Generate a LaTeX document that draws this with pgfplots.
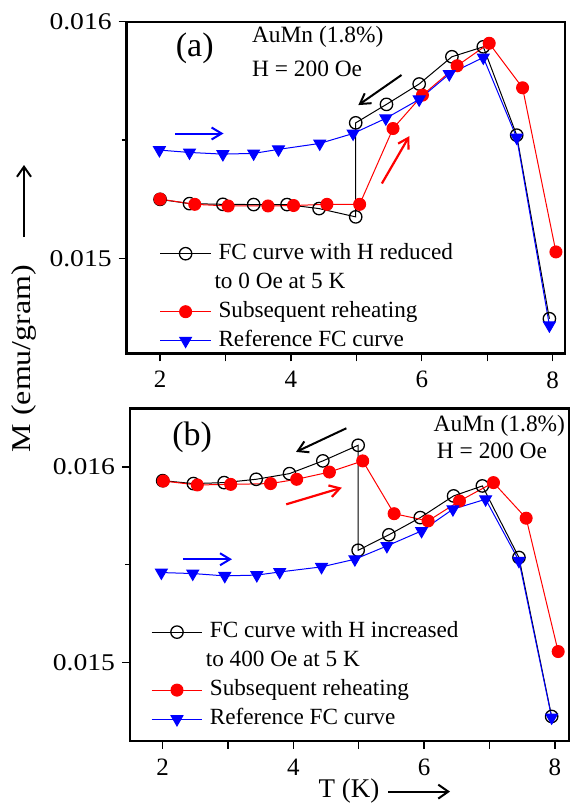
\documentclass[border=0pt]{standalone}
\usepackage{fontspec}
\setmainfont{Liberation Serif}
\usepackage{graphicx}
\usepackage{pgfplots}
\pgfplotsset{compat=1.18}
\usetikzlibrary{arrows.meta}
\newcommand{\ylab}[1]{\scalebox{1.15}[1]{#1}}
\pgfplotsset{
  panel/.style={
    scale only axis,
    axis line style={line width=1.2pt},
    tick style={line width=0.7pt, black},
    tick align=outside,
    major tick length=4pt,
    minor tick length=2.5pt,
    xtick pos=left, ytick pos=left,
    xtick={2,3,4,5,6,7,8},
    xticklabels={2,,4,,6,,8},
    ytick={0.015,0.016},
    yticklabels={\ylab{0.015},\ylab{0.016}},
    minor ytick={0.0155},
    scaled y ticks=false,
    xticklabel style={font=\fontsize{12.5}{14}\selectfont, yshift=-1.5pt},
    yticklabel style={font=\fontsize{12}{14}\selectfont},
    legend cell align=left,
    legend style={draw=none, fill=none, anchor=north west,
      font=\fontsize{11.6}{14}\selectfont, row sep=0pt, column sep=2pt,
      inner sep=0pt, nodes={inner sep=1.5pt, text height=8.5pt, text depth=3pt}},
    legend image code/.code={\draw[mark repeat=2,mark phase=2,##1] plot coordinates {(0pt,0pt) (12.7pt,0pt) (25.4pt,0pt)};},
    clip=false,
  },
  fc/.style={black, line width=0.5pt, mark=o, mark size=3.1pt, mark options={fill=white, line width=0.65pt}},
  rh/.style={red, line width=0.5pt, mark=*, mark size=3pt},
  rf/.style={blue, line width=0.5pt, mark=triangle*, mark size=3.4pt, mark options={rotate=180}},
}
\pgfplotstableread{
T M
2.00 0.015250
2.45 0.015232
2.96 0.015229
3.43 0.015228
3.94 0.015228
4.43 0.015211
4.99 0.015176
4.99 0.015573
5.46 0.015651
5.96 0.015737
6.46 0.015852
6.94 0.015894
7.45 0.015521
7.95 0.014746
}\fcA
\pgfplotstableread{
T M
2.00 0.015251
2.53 0.015229
3.04 0.015222
3.65 0.015222
4.04 0.015224
4.55 0.015229
5.05 0.015229
5.56 0.015549
6.01 0.015690
6.54 0.015814
7.03 0.015909
7.54 0.015721
8.05 0.015028
}\rhA
\pgfplotstableread{
T M
1.99 0.015458
2.45 0.015448
2.96 0.015441
3.43 0.015444
3.81 0.015461
4.44 0.015486
4.95 0.015528
5.45 0.015592
5.96 0.015672
6.42 0.015779
6.94 0.015849
7.45 0.015511
7.95 0.014718
}\rfA
\pgfplotstableread{
T M
2.00 0.015930
2.47 0.015915
2.94 0.015920
3.43 0.015937
3.94 0.015966
4.45 0.016031
4.99 0.016111
4.99 0.015574
5.46 0.015653
5.94 0.015741
6.45 0.015852
6.89 0.015903
7.45 0.015537
7.95 0.014724
}\fcB
\pgfplotstableread{
T M
2.01 0.015928
2.53 0.015908
3.04 0.015911
3.65 0.015915
4.05 0.015937
4.55 0.015974
5.06 0.016031
5.54 0.015761
6.06 0.015724
6.54 0.015826
7.06 0.015920
7.56 0.015738
8.05 0.015056
}\rhB
\pgfplotstableread{
T M
1.98 0.015460
2.46 0.015455
2.95 0.015443
3.44 0.015447
3.79 0.015463
4.43 0.015489
4.94 0.015528
5.43 0.015596
5.96 0.015673
6.44 0.015784
6.94 0.015835
7.45 0.015520
7.95 0.014719
}\rfB
\begin{document}
\begin{tikzpicture}
\useasboundingbox (0pt,0pt) rectangle (285pt,-405.5pt);
% top panel
\begin{axis}[panel,
  at={(63.35pt,-176.65pt)}, anchor=south west,
  width=219.2pt, height=165.8pt,
  xmin=1.49, xmax=8.19, ymin=0.0146, ymax=0.016,
  legend style={at={(0.0744,0.3453)}}]
\addplot[fc] table {\fcA};
\addlegendentry{FC curve with H reduced}
\addlegendimage{empty legend}
\addlegendentry{\hspace*{-2pt}to 0 Oe at 5 K}
\addplot[rh] table {\rhA};
\addlegendentry{Subsequent reheating}
\addplot[rf] table {\rfA};
\addlegendentry{Reference FC curve}
\node[font=\fontsize{17}{20}\selectfont] at (axis cs:2.53,0.015889) {(a)};
\node[anchor=west, inner sep=0pt, font=\fontsize{11.7}{14}\selectfont] at (axis cs:3.40,0.015937) {AuMn (1.8\%)};
\node[anchor=west, inner sep=0pt, font=\fontsize{11.7}{14}\selectfont] at (axis cs:3.40,0.015803) {H = 200 Oe};
\draw[blue, line width=1pt, -{Straight Barb[length=5pt,width=6pt]}] (axis cs:2.23,0.015528) -- (axis cs:2.97,0.015528);
\draw[black, line width=1pt, -{Straight Barb[length=5pt,width=6pt]}] (axis cs:5.69,0.015775) -- (axis cs:5.03,0.015648);
\draw[red, line width=1.1pt, -{Straight Barb[length=5pt,width=6pt]}] (axis cs:5.39,0.015317) -- (axis cs:5.81,0.015517);
\end{axis}
% bottom panel
\begin{axis}[panel,
  at={(65pt,-370.35pt)}, anchor=south west,
  width=219.65pt, height=166.2pt,
  xmin=1.5, xmax=8.22, ymin=0.0146, ymax=0.0163,
  legend style={at={(0.0471,0.3715)}}]
\addplot[fc] table {\fcB};
\addlegendentry{FC curve with H increased}
\addlegendimage{empty legend}
\addlegendentry{\hspace*{-2pt}to 400 Oe at 5 K}
\addplot[rh] table {\rhB};
\addlegendentry{Subsequent reheating}
\addplot[rf] table {\rfB};
\addlegendentry{Reference FC curve}
\node[font=\fontsize{17}{20}\selectfont] at (axis cs:2.45,0.01615) {(b)};
\node[anchor=west, inner sep=0pt, font=\fontsize{11.7}{14}\selectfont] at (axis cs:6.14,0.01621) {AuMn (1.8\%)};
\node[anchor=west, inner sep=0pt, font=\fontsize{11.7}{14}\selectfont] at (axis cs:6.19,0.016082) {H = 200 Oe};
\draw[blue, line width=1pt, -{Straight Barb[length=5pt,width=6pt]}] (axis cs:2.31,0.015528) -- (axis cs:3.06,0.015528);
\draw[black, line width=1pt, -{Straight Barb[length=5pt,width=6pt]}] (axis cs:4.81,0.016198) -- (axis cs:4.04,0.016077);
\draw[red, line width=1.1pt, -{Straight Barb[length=5pt,width=6pt]}] (axis cs:3.89,0.015809) -- (axis cs:4.74,0.015894);
\end{axis}
% axis labels
\node[rotate=90, font=\fontsize{16}{19}\selectfont] at (12pt,-179.25pt) {\scalebox{1}[0.85]{M (emu/gram)}};
\draw[line width=1pt, -{Straight Barb[length=5pt,width=7pt]}] (12pt,-118.5pt) -- (12pt,-82.5pt);
\node[font=\fontsize{13.5}{16}\selectfont] at (174.5pt,-395.5pt) {T (K)};
\draw[line width=1pt, -{Straight Barb[length=5pt,width=7pt]}] (194pt,-395.8pt) -- (225pt,-395.8pt);
\end{tikzpicture}
\end{document}
